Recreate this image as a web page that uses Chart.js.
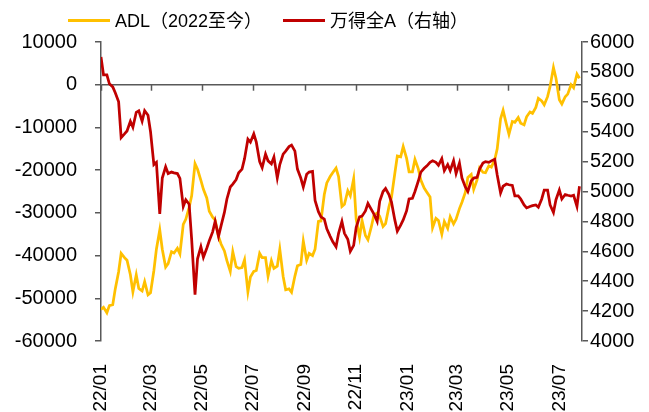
<!DOCTYPE html>
<html>
<head>
<meta charset="utf-8">
<script src="https://cdn.jsdelivr.net/npm/chart.js@4.4.0/dist/chart.umd.min.js"></script>
<style>
  body { margin: 0; background: #fff; }
  #wrap { position: relative; width: 649px; height: 412px; }
  #legend { position: absolute; left: 0; top: 0; width: 649px; height: 40px;
            font-family: Arial, "Liberation Sans", "Noto Sans CJK SC", sans-serif;
            font-size: 18px; color: #000; }
  .item { position: absolute; top: 9px; height: 24px; line-height: 24px; white-space: nowrap; }
  .swatch { position: absolute; top: 10px; width: 42px; height: 3px; }
</style>
</head>
<body>
<div id="wrap">
  <div id="legend"></div>
  <canvas id="myChart" width="649" height="412"></canvas>
</div>
<script>
// trading dates sampled twice a week (Tue / Fri)
const dates = [
    '2022-01-04','2022-01-07','2022-01-11','2022-01-14','2022-01-18','2022-01-21','2022-01-25','2022-01-28',
    '2022-02-01','2022-02-04','2022-02-08','2022-02-11','2022-02-15','2022-02-18','2022-02-22','2022-02-25',
    '2022-03-01','2022-03-04','2022-03-08','2022-03-11','2022-03-15','2022-03-18','2022-03-22','2022-03-25','2022-03-29',
    '2022-04-01','2022-04-05','2022-04-08','2022-04-12','2022-04-15','2022-04-19','2022-04-22','2022-04-26','2022-04-29',
    '2022-05-03','2022-05-06','2022-05-10','2022-05-13','2022-05-17','2022-05-20','2022-05-24','2022-05-27','2022-05-31',
    '2022-06-03','2022-06-07','2022-06-10','2022-06-14','2022-06-17','2022-06-21','2022-06-24','2022-06-28',
    '2022-07-01','2022-07-05','2022-07-08','2022-07-12','2022-07-15','2022-07-19','2022-07-22','2022-07-26','2022-07-29',
    '2022-08-02','2022-08-05','2022-08-09','2022-08-12','2022-08-16','2022-08-19','2022-08-23','2022-08-26','2022-08-30',
    '2022-09-02','2022-09-06','2022-09-09','2022-09-13','2022-09-16','2022-09-20','2022-09-23','2022-09-27','2022-09-30',
    '2022-10-04','2022-10-07','2022-10-11','2022-10-14','2022-10-18','2022-10-21','2022-10-25','2022-10-28',
    '2022-11-01','2022-11-04','2022-11-08','2022-11-11','2022-11-15','2022-11-18','2022-11-22','2022-11-25','2022-11-29',
    '2022-12-02','2022-12-06','2022-12-09','2022-12-13','2022-12-16','2022-12-20','2022-12-23','2022-12-27','2022-12-30',
    '2023-01-03','2023-01-06','2023-01-10','2023-01-13','2023-01-17','2023-01-20','2023-01-24','2023-01-27','2023-01-31',
    '2023-02-03','2023-02-07','2023-02-10','2023-02-14','2023-02-17','2023-02-21','2023-02-24','2023-02-28',
    '2023-03-03','2023-03-07','2023-03-10','2023-03-14','2023-03-17','2023-03-21','2023-03-24','2023-03-28','2023-03-31',
    '2023-04-04','2023-04-07','2023-04-11','2023-04-14','2023-04-18','2023-04-21','2023-04-25','2023-04-28',
    '2023-05-02','2023-05-05','2023-05-09','2023-05-12','2023-05-16','2023-05-19','2023-05-23','2023-05-26','2023-05-30',
    '2023-06-02','2023-06-06','2023-06-09','2023-06-13','2023-06-16','2023-06-20','2023-06-23','2023-06-27','2023-06-30',
    '2023-07-04','2023-07-07','2023-07-11','2023-07-14','2023-07-18','2023-07-21','2023-07-25','2023-07-28'
];

const adlValues = [
    -52600,-52100,-53400,-51700,-51500,-47800,-43800,-39500,-40500,-41100,
    -44500,-48500,-44500,-47700,-48300,-46100,-49200,-48700,-43500,-38500,
    -34000,-38500,-42700,-41900,-39100,-39400,-38300,-39600,-32700,-31500,
    -28700,-26000,-18500,-19800,-22400,-24500,-26500,-29600,-31000,-31700,
    -35500,-37300,-38900,-41200,-43700,-39100,-42600,-43000,-42800,-41000,
    -48500,-45000,-43700,-43500,-39500,-40500,-40500,-44800,-41200,-43000,
    -42500,-38500,-44900,-48000,-47800,-48600,-44800,-42400,-42100,-36600,
    -41100,-39500,-40000,-38500,-32000,-31900,-25700,-23000,-21500,-20600,
    -19500,-21500,-28500,-28000,-24800,-26000,-22000,-31500,-35700,-31800,
    -35300,-36300,-33300,-30600,-30000,-30800,-33200,-32500,-28600,-26400,
    -20800,-16700,-16900,-14500,-17200,-20400,-20400,-17500,-19700,-22300,
    -24200,-25100,-26300,-33500,-31300,-31800,-35000,-32000,-33600,-30900,
    -32600,-31500,-29000,-27500,-25200,-21700,-21000,-24500,-22300,-19500,
    -20500,-20600,-19000,-19300,-17600,-15000,-8000,-6000,-9300,-11600,
    -8600,-8800,-7700,-9000,-9400,-7500,-6400,-6700,-5300,-3200,
    -3800,-4700,-2800,-400,4000,1500,-3500,-4500,-2800,-2200,
    0,-700,2500,1500
];

const windAValues = [
    5900,5780,5780,5720,5700,5660,5600,5360,5385,5405,
    5470,5430,5530,5540,5470,5540,5510,5400,5180,5195,
    4850,5090,5165,5120,5130,5125,5120,5088,4900,4945,
    4915,4680,4310,4550,4630,4560,4620,4670,4730,4800,
    4700,4770,4860,4950,5030,5050,5080,5125,5150,5220,
    5350,5330,5385,5330,5200,5160,5250,5205,5185,5230,
    5090,5180,5250,5270,5300,5310,5270,5150,5090,5030,
    5115,5130,5135,4940,4865,4830,4815,4750,4700,4665,
    4630,4720,4800,4720,4680,4600,4640,4760,4830,4835,
    4870,4920,4880,4850,4800,4935,5000,5020,4980,4930,
    4810,4735,4775,4810,4870,4950,4955,5000,5070,5130,
    5155,5170,5195,5205,5195,5175,5220,5140,5180,5140,
    5205,5120,5190,5090,5030,5000,5070,5090,5095,5150,
    5190,5200,5195,5205,5215,5110,4990,5035,5050,5045,
    5040,4970,4970,4950,4910,4890,4900,4905,4910,4895,
    4950,5010,5010,4910,4860,4945,5010,4950,4980,4975,
    4970,4975,4900,5035
];

const tickDates = ['2022-01-04','2022-03-04','2022-05-04','2022-07-04','2022-09-04',
                   '2022-11-04','2023-01-04','2023-03-04','2023-05-04','2023-07-04'];
const tickLabels = ['22/01','22/03','22/05','22/07','22/09','22/11','23/01','23/03','23/05','23/07'];

const seriesNames = ['ADL（2022至今）', '万得全A（右轴）'];
const seriesColors = ['#FFC000', '#C00000'];

const axisColor = '#595959';
const fontFamily = 'Arial, "Liberation Sans", "Noto Sans CJK SC", sans-serif';

function toDay(s) {
    return Date.UTC(+s.slice(0, 4), +s.slice(5, 7) - 1, +s.slice(8, 10)) / 86400000;
}

const xDays = dates.map(toDay);

// html legend, placed like the original one
function buildLegend() {
    const el = document.getElementById('legend');
    const lefts = [68, 283];
    seriesNames.forEach((name, i) => {
        const sw = document.createElement('span');
        sw.className = 'swatch';
        sw.style.left = lefts[i] + 'px';
        sw.style.top = '19px';
        sw.style.background = seriesColors[i];
        el.appendChild(sw);
        const tx = document.createElement('span');
        tx.className = 'item';
        tx.style.left = (lefts[i] + 47) + 'px';
        tx.textContent = name;
        el.appendChild(tx);
    });
}
buildLegend();

// small tick marks on the zero line, like the excel date axis
const zeroTicks = {
    id: 'zeroTicks',
    beforeDatasetsDraw(chart) {
        const x = chart.scales.x;
        const y0 = chart.scales.y.getPixelForValue(0);
        const ctx = chart.ctx;
        ctx.save();
        ctx.strokeStyle = axisColor;
        ctx.lineWidth = 1.5;
        x.ticks.forEach(t => {
            const px = Math.round(x.getPixelForValue(t.value)) + 0.5;
            ctx.beginPath();
            ctx.moveTo(px, y0);
            ctx.lineTo(px, y0 + 6);
            ctx.stroke();
        });
        ctx.restore();
    }
};

Chart.defaults.font.family = fontFamily;
Chart.defaults.color = '#000';

const ctx = document.getElementById('myChart').getContext('2d');
new Chart(ctx, {
    type: 'line',
    data: {
        datasets: [
            {
                label: seriesNames[0],
                data: xDays.map((d, i) => ({ x: d, y: adlValues[i] })),
                borderColor: seriesColors[0],
                borderWidth: 2.75,
                pointRadius: 0,
                yAxisID: 'y',
                order: 2,
            },
            {
                label: seriesNames[1],
                data: xDays.map((d, i) => ({ x: d, y: windAValues[i] })),
                borderColor: seriesColors[1],
                borderWidth: 2.75,
                pointRadius: 0,
                yAxisID: 'y1',
                order: 1,
            },
        ],
    },
    options: {
        responsive: false,
        animation: false,
        layout: { padding: { top: 42, left: 0, right: 0, bottom: 0 } },
        plugins: {
            tooltip: { enabled: false },
            legend: { display: false },
        },
        scales: {
            x: {
                type: 'linear',
                min: toDay('2022-01-04'),
                max: toDay('2023-07-31'),
                afterBuildTicks: scale => {
                    scale.ticks = tickDates.map(d => ({ value: toDay(d) }));
                },
                afterFit: scale => { scale.height = 71; },
                grid: { display: false },
                border: { display: false },
                ticks: {
                    autoSkip: false,
                    minRotation: 90,
                    maxRotation: 90,
                    padding: 15,
                    font: { size: 19 },
                    callback: (v, i) => tickLabels[i],
                },
            },
            y: {
                position: 'left',
                min: -60000,
                max: 10000,
                afterFit: scale => { scale.width = 101; },
                border: { color: axisColor, width: 1.5 },
                grid: {
                    color: c => (c.tick && c.tick.value === 0 ? axisColor : 'rgba(0,0,0,0)'),
                    lineWidth: 1.5,
                    tickColor: axisColor,
                    tickLength: 6,
                },
                ticks: {
                    stepSize: 10000,
                    padding: 18,
                    font: { size: 20 },
                    callback: v => String(v),
                },
            },
            y1: {
                position: 'right',
                min: 4000,
                max: 6000,
                afterFit: scale => { scale.width = 67; },
                border: { color: axisColor, width: 1.5 },
                grid: {
                    drawOnChartArea: false,
                    tickColor: axisColor,
                    tickLength: 6,
                    lineWidth: 1.5,
                },
                ticks: {
                    stepSize: 200,
                    padding: 2,
                    font: { size: 20 },
                    callback: v => String(v),
                },
            },
        },
    },
    plugins: [zeroTicks],
});
</script>
</body>
</html>
